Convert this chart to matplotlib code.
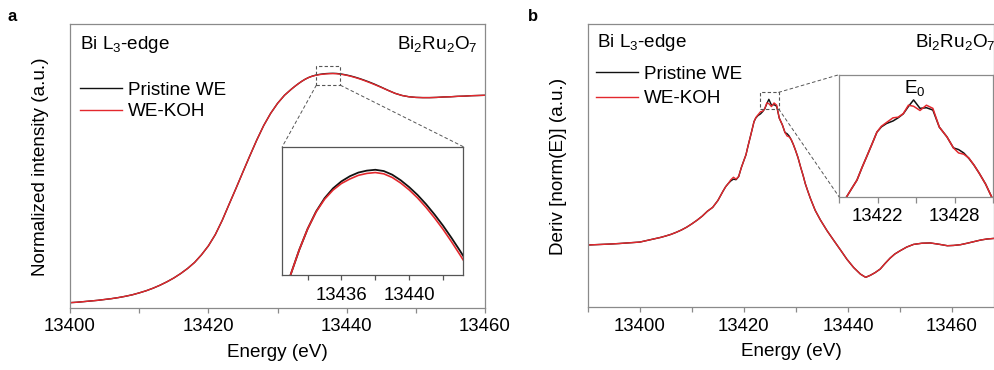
"""Bi L3-edge XANES and its derivative for Bi2Ru2O7 (pristine vs KOH)."""

import matplotlib

matplotlib.use("Agg")
import matplotlib.pyplot as plt
from matplotlib.patches import Rectangle, ConnectionPatch
from matplotlib.ticker import MultipleLocator, NullLocator, FormatStrFormatter

plt.rcParams["font.family"] = ["Liberation Sans", "DejaVu Sans"]
plt.rcParams["font.size"] = 13.6

# ---- panel a: normalized XANES ----
energy_a = [
    13400, 13401, 13402, 13403, 13404, 13405, 13406, 13407, 13408, 13409,
    13410, 13411, 13412, 13413, 13414, 13415, 13416, 13417, 13418, 13419,
    13420, 13421, 13422, 13423, 13424, 13425, 13426, 13427, 13428, 13429,
    13430, 13431, 13432, 13432.5, 13433, 13433.5, 13434, 13434.5, 13435,
    13435.5, 13436, 13436.5, 13437, 13437.5, 13438, 13438.5, 13439, 13439.5,
    13440, 13440.5, 13441, 13441.5, 13442, 13442.5, 13443, 13443.5, 13444,
    13445, 13446, 13447, 13448, 13449, 13450, 13451, 13452, 13453, 13454,
    13455, 13456, 13457, 13458, 13459, 13460,
]
pristine_a = [
    0.025, 0.027, 0.030, 0.033, 0.036, 0.040, 0.044, 0.049, 0.055, 0.062,
    0.071, 0.081, 0.093, 0.107, 0.123, 0.141, 0.162, 0.186, 0.214, 0.250,
    0.292, 0.345, 0.412, 0.488, 0.563, 0.640, 0.716, 0.790, 0.858, 0.915,
    0.962, 1.000, 1.0288, 1.0420, 1.0543, 1.0657, 1.0756, 1.0837, 1.0899,
    1.0945, 1.0978, 1.1002, 1.1019, 1.1028, 1.1032, 1.1026, 1.1009, 1.0983,
    1.0951, 1.0914, 1.0871, 1.0823, 1.0771, 1.0714, 1.0654, 1.0591, 1.0525,
    1.038, 1.023, 1.009, 0.999, 0.993, 0.990, 0.989, 0.989, 0.990, 0.992,
    0.993, 0.995, 0.996, 0.998, 0.999, 1.000,
]
koh_a = [
    0.025, 0.027, 0.030, 0.033, 0.036, 0.040, 0.044, 0.049, 0.055, 0.062,
    0.071, 0.081, 0.093, 0.107, 0.123, 0.141, 0.162, 0.186, 0.214, 0.250,
    0.292, 0.345, 0.412, 0.488, 0.563, 0.640, 0.716, 0.790, 0.858, 0.915,
    0.962, 1.000, 1.0288, 1.0420, 1.0543, 1.0657, 1.0756, 1.0835, 1.0894,
    1.0937, 1.0968, 1.0989, 1.1006, 1.1015, 1.1019, 1.1013, 1.0996, 1.0970,
    1.0938, 1.0900, 1.0856, 1.0807, 1.0754, 1.0696, 1.0635, 1.0572, 1.0506,
    1.037, 1.0225, 1.009, 0.999, 0.993, 0.990, 0.989, 0.989, 0.990, 0.992,
    0.993, 0.995, 0.996, 0.998, 0.999, 1.000,
]

# ---- panel b: first derivative ----
energy_b = [
    13390, 13392, 13394, 13396, 13398, 13400, 13402, 13404, 13405, 13406,
    13407, 13408, 13409, 13410, 13411, 13412, 13413, 13414, 13415, 13416,
    13416.5, 13417, 13417.5, 13418, 13418.5, 13419, 13419.5, 13420, 13420.4,
    13420.8, 13421.2, 13421.6, 13421.95, 13422.3, 13422.7, 13423.2, 13423.6,
    13424.0, 13424.4, 13424.8, 13425.3, 13425.8, 13426.3, 13426.8, 13427.4,
    13427.9, 13428.3, 13428.7, 13429.1, 13429.5, 13429.9, 13430.4, 13430.9,
    13431.4, 13431.8, 13432.3, 13432.8, 13433.7, 13434.7, 13436.0, 13437.3,
    13438.6, 13439.8, 13441.1, 13442.4, 13443.4, 13444.3, 13445.2, 13446.2,
    13447.1, 13448.1, 13449.0, 13450.0, 13451.3, 13452.6, 13454.2, 13455.8,
    13457.5, 13459.1, 13460.3, 13461.6, 13462.9, 13464.2, 13465.5, 13466.7,
    13468.3, 13469.5,
]
pristine_b = [
    0.000, 0.003, 0.006, 0.010, 0.015, 0.020, 0.036, 0.052, 0.062, 0.073,
    0.087, 0.103, 0.122, 0.145, 0.170, 0.198, 0.232, 0.258, 0.305, 0.370,
    0.400, 0.422, 0.440, 0.452, 0.448, 0.470, 0.530, 0.580, 0.619,
    0.680, 0.737, 0.795, 0.847, 0.872, 0.888, 0.900, 0.915,
    0.934, 0.969, 1.000, 0.960, 0.963, 0.952, 0.871, 0.824,
    0.772, 0.764, 0.748, 0.722, 0.690, 0.652, 0.600, 0.535,
    0.475, 0.421, 0.368, 0.318, 0.238, 0.172, 0.097, 0.030,
    -0.036, -0.098, -0.155, -0.200, -0.222, -0.208, -0.190, -0.165,
    -0.128, -0.090, -0.062, -0.040, -0.014, 0.004, 0.012, 0.014,
    0.005, -0.005, -0.003, 0.002, 0.012, 0.023, 0.034, 0.041,
    0.046, 0.048,
]
koh_b = [
    0.000, 0.003, 0.006, 0.010, 0.015, 0.020, 0.036, 0.052, 0.062, 0.073,
    0.087, 0.103, 0.122, 0.145, 0.170, 0.198, 0.232, 0.258, 0.305, 0.370,
    0.400, 0.422, 0.448, 0.465, 0.452, 0.470, 0.530, 0.580, 0.619,
    0.680, 0.737, 0.795, 0.847, 0.875, 0.893, 0.915, 0.918,
    0.935, 0.975, 0.970, 0.950, 0.975, 0.960, 0.871, 0.824,
    0.772, 0.748, 0.742, 0.724, 0.690, 0.652, 0.600, 0.535,
    0.475, 0.421, 0.368, 0.318, 0.238, 0.172, 0.097, 0.030,
    -0.036, -0.098, -0.155, -0.200, -0.222, -0.208, -0.190, -0.165,
    -0.128, -0.090, -0.062, -0.040, -0.014, 0.004, 0.012, 0.014,
    0.005, -0.005, -0.003, 0.002, 0.012, 0.023, 0.034, 0.041,
    0.046, 0.048,
]

labels = ["Pristine WE", "WE-KOH"]
BLACK = "#111111"
RED = "#e3282d"
SPINE = "#8a8a8a"
DASH = "#555555"


def style(ax, major, minor, spine=SPINE, length=3.5):
    for s in ax.spines.values():
        s.set_color(spine)
        s.set_linewidth(0.9)
    ax.xaxis.set_major_locator(MultipleLocator(major))
    ax.xaxis.set_minor_locator(MultipleLocator(minor))
    ax.yaxis.set_major_locator(NullLocator())
    ax.yaxis.set_minor_locator(NullLocator())
    ax.tick_params(axis="x", which="both", direction="out", length=length,
                   width=0.9, color=spine, pad=4, labelsize=13.4)
    ax.xaxis.set_major_formatter(FormatStrFormatter("%d"))


def main():
    fig = plt.figure(figsize=(9.95, 3.7), dpi=100)

    # ---------- panel a ----------
    ax = fig.add_axes([0.0704, 0.1676, 0.4171, 0.7676])
    ax.plot(energy_a, pristine_a, color=BLACK, lw=1.0, label=labels[0])
    ax.plot(energy_a, koh_a, color=RED, lw=1.0, label=labels[1])
    ax.set_xlim(13400, 13460)
    ax.set_ylim(0, 1.3352)
    style(ax, 20, 10)
    ax.set_xlabel("Energy (eV)", labelpad=6)
    ax.set_ylabel("Normalized intensity (a.u.)")
    ax.yaxis.set_label_coords(-0.05, 0.4975)
    ax.text(0.024, 0.911, r"Bi L$_\mathregular{3}$-edge", transform=ax.transAxes,
            ha="left", va="baseline")
    ax.text(0.981, 0.911, r"Bi$_\mathregular{2}$Ru$_\mathregular{2}$O$_\mathregular{7}$",
            transform=ax.transAxes, ha="right", va="baseline")
    ax.legend(loc="upper left", bbox_to_anchor=(0.024, 0.797), frameon=False,
              borderpad=0, borderaxespad=0, handlelength=2.2, handletextpad=0.32,
              labelspacing=0.22)
    ax.add_patch(Rectangle((13435.6, 1.047), 3.5, 0.091, fill=False, ec=DASH,
                           ls=(0, (3, 2)), lw=0.8, zorder=4))

    ins = fig.add_axes([0.2837, 0.2568, 0.1819, 0.3468])
    ins.plot(energy_a, pristine_a, color=BLACK, lw=1.3)
    ins.plot(energy_a, koh_a, color=RED, lw=1.2)
    ins.set_xlim(13432.5, 13443.2)
    ins.set_ylim(1.054, 1.114)
    style(ins, 4, 2, spine="#555555", length=3.5)
    ins.tick_params(axis="x", which="both", pad=5)
    for (xa, xi) in [(13435.6, 0.0), (13439.1, 1.0)]:
        con = ConnectionPatch(xyA=(xa, 1.047), coordsA=ax.transData,
                              xyB=(xi, 1.0), coordsB=ins.transAxes,
                              color=DASH, ls=(0, (3, 3)), lw=0.7)
        fig.add_artist(con)

    # ---------- panel b ----------
    bx = fig.add_axes([0.5907, 0.1695, 0.4085, 0.7656])
    bx.plot(energy_b, pristine_b, color=BLACK, lw=1.0, label=labels[0])
    bx.plot(energy_b, koh_b, color=RED, lw=1.0, label=labels[1])
    bx.set_xlim(13390, 13468.1)
    bx.set_ylim(-0.4276, 1.5168)
    style(bx, 20, 10)
    bx.set_xlabel("Energy (eV)", labelpad=6)
    bx.set_ylabel("Deriv [norm(E)] (a.u.)")
    bx.yaxis.set_label_coords(-0.052, 0.496)
    bx.text(0.022, 0.918, r"Bi L$_\mathregular{3}$-edge", transform=bx.transAxes,
            ha="left", va="baseline")
    bx.text(1.004, 0.918, r"Bi$_\mathregular{2}$Ru$_\mathregular{2}$O$_\mathregular{7}$",
            transform=bx.transAxes, ha="right", va="baseline")
    bx.legend(loc="upper left", bbox_to_anchor=(0.0204, 0.853), frameon=False,
              borderpad=0, borderaxespad=0, handlelength=2.2, handletextpad=0.32,
              labelspacing=0.38)
    bx.add_patch(Rectangle((13423.05, 0.933), 3.65, 0.115, fill=False, ec=DASH,
                           ls=(0, (3, 2)), lw=0.8, zorder=4))

    inb = fig.add_axes([0.8432, 0.4684, 0.1551, 0.3297])
    inb.plot(energy_b, pristine_b, color=BLACK, lw=1.1)
    inb.plot(energy_b, koh_b, color=RED, lw=1.1)
    inb.set_xlim(13419, 13431)
    inb.set_ylim(0.54, 1.12)
    style(inb, 6, 3, length=4.5)
    inb.tick_params(axis="x", which="both", pad=4)
    inb.text(0.49, 0.848, r"E$_\mathregular{0}$", transform=inb.transAxes,
             ha="center", va="baseline")
    for (ya, yi) in [(1.048, 1.0), (0.933, 0.0)]:
        con = ConnectionPatch(xyA=(13426.7, ya), coordsA=bx.transData,
                              xyB=(0.0, yi), coordsB=inb.transAxes,
                              color=DASH, ls=(0, (3, 3)), lw=0.7)
        fig.add_artist(con)

    fig.text(0.008, 0.955, "a", fontsize=12, fontweight="bold", va="center")
    fig.text(0.531, 0.955, "b", fontsize=12, fontweight="bold", va="center")

    fig.savefig("out.png", dpi=100)


if __name__ == "__main__":
    main()
